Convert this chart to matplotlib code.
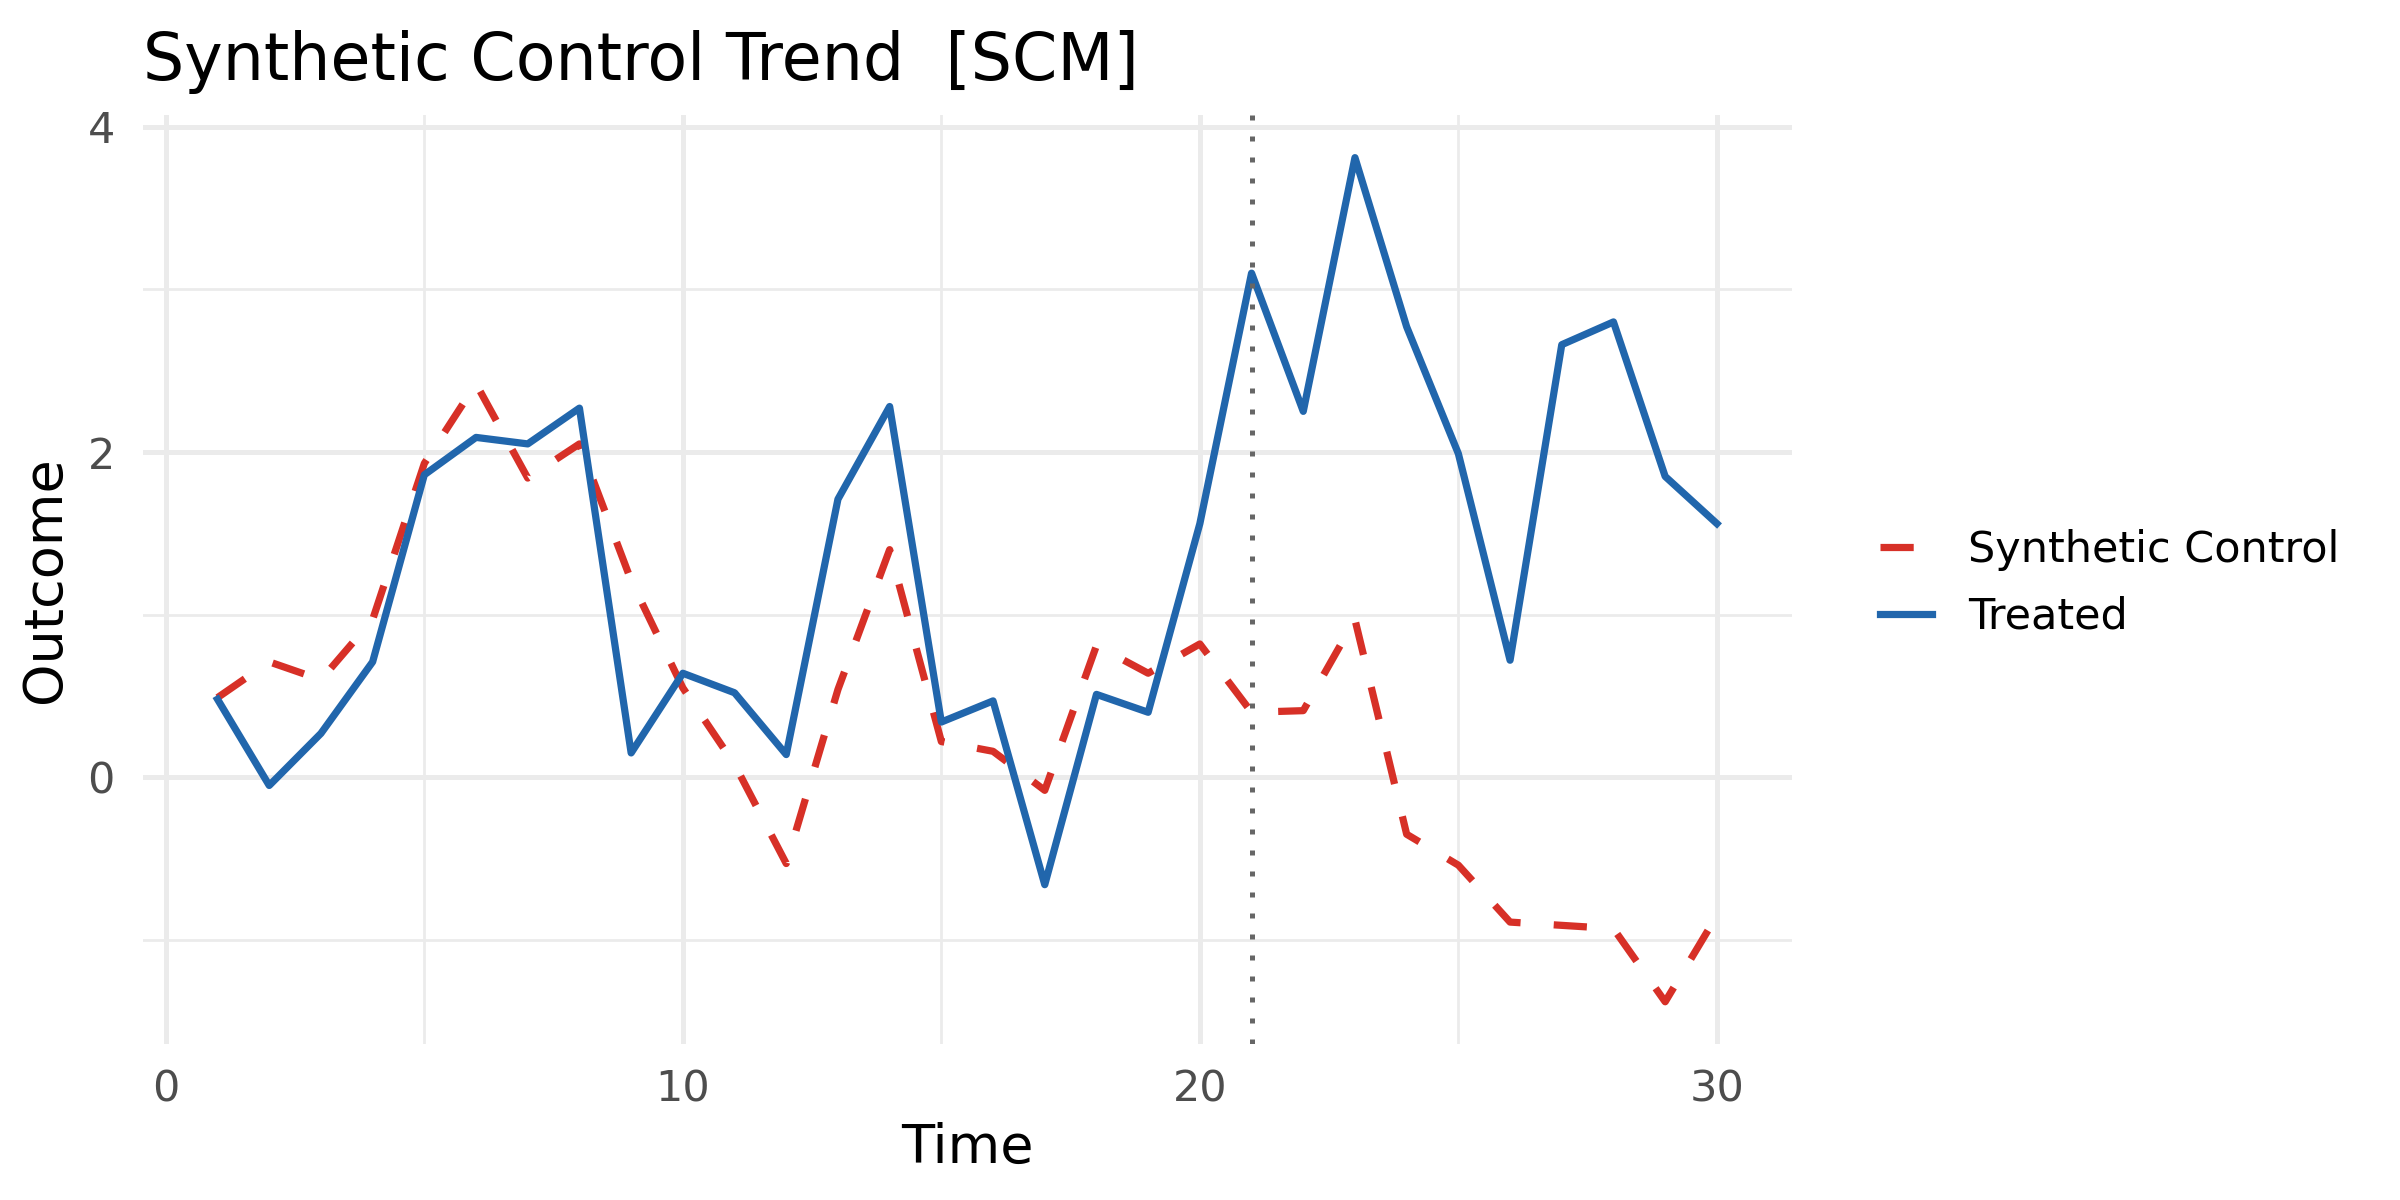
import matplotlib
matplotlib.use("Agg")
import matplotlib.pyplot as plt

# ---- data ----
time = list(range(1, 31))
treated = [0.48, -0.05, 0.27, 0.71, 1.86, 2.09, 2.05, 2.27, 0.15, 0.64,
           0.52, 0.14, 1.71, 2.28, 0.34, 0.47, -0.66, 0.51, 0.40, 1.56,
           3.10, 2.25, 3.81, 2.77, 1.99, 0.72, 2.66, 2.80, 1.85, 1.56]
synthetic = [0.49, 0.71, 0.60, 0.97, 1.93, 2.42, 1.84, 2.05, 1.21, 0.55,
             0.08, -0.53, 0.54, 1.40, 0.22, 0.16, -0.08, 0.81, 0.64, 0.82,
             0.40, 0.41, 0.97, -0.35, -0.54, -0.89, -0.91, -0.93, -1.38, -0.85]
treatment_time = 21
x_major = [0, 10, 20, 30]
x_minor = [5, 15, 25]
y_major = [0, 2, 4]
y_minor = [-1, 1, 3]
series_labels = ["Synthetic Control", "Treated"]
title = "Synthetic Control Trend  [SCM]"

RED = "#D73027"
BLUE = "#2166AC"
GRID = "#EBEBEB"

plt.rcParams["font.family"] = ["DejaVu Sans"]

fig = plt.figure(figsize=(12, 6), dpi=200)
ax = fig.add_axes([0.0594, 0.13, 0.6872, 0.7738])

ax.plot(time, synthetic, color=RED, lw=2.6, linestyle=(0, (4.6, 4.6)),
        label=series_labels[0], zorder=3)
ax.plot(time, treated, color=BLUE, lw=2.6, label=series_labels[1], zorder=4,
        solid_joinstyle="round")
ax.axvline(treatment_time, color="#666666", lw=1.8, linestyle=(0, (1, 3.2)),
           zorder=5)

ax.margins(x=0.05, y=0.05)
ax.set_xticks(x_major)
ax.set_xticks(x_minor, minor=True)
ax.set_yticks(y_major)
ax.set_yticks(y_minor, minor=True)
ax.grid(which="major", color=GRID, lw=1.8, zorder=0)
ax.grid(which="minor", color=GRID, lw=1.0, zorder=0)
ax.set_axisbelow(True)
for s in ax.spines.values():
    s.set_visible(False)
ax.tick_params(which="both", length=0)
ax.tick_params(axis="both", labelsize=15.5, labelcolor="#4D4D4D")
ax.tick_params(axis="y", pad=10)
ax.tick_params(axis="x", pad=9)

ax.set_xlabel("Time", fontsize=19.5, labelpad=4)
ax.set_ylabel("Outcome", fontsize=19.5, labelpad=6)

fig.text(0.0594, 0.9333, title, fontsize=23.4, ha="left", va="baseline")

handles, labels = ax.get_legend_handles_labels()
fig.legend(handles, labels, loc="center left",
           bbox_to_anchor=(1880 / 2400, 1 - 583.5 / 1200),
           frameon=False, fontsize=15.5, handlelength=1.2,
           handletextpad=0.84, labelspacing=0.57, borderpad=0,
           borderaxespad=0)

fig.savefig("out.png", dpi=200, facecolor="white")
